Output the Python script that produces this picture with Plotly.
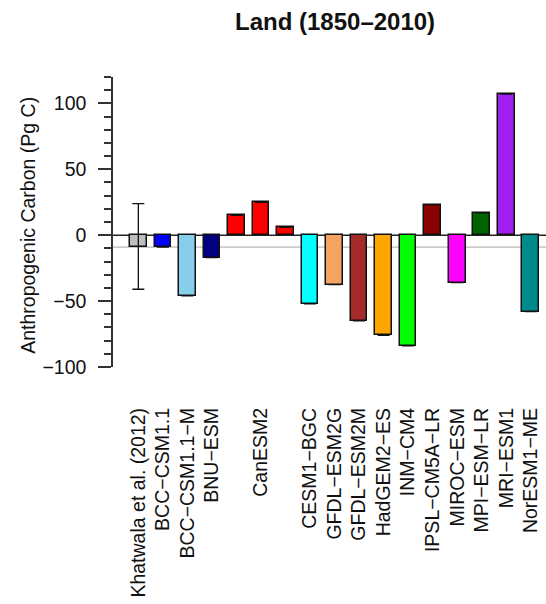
import plotly.graph_objects as go

# ---- data ----
models = ["Khatwala et al. (2012)", "BCC\u2212CSM1.1", "BCC\u2212CSM1.1\u2212M", "BNU\u2212ESM",
          "CanESM2", "CanESM2", "CanESM2",
          "CESM1\u2212BGC", "GFDL\u2212ESM2G", "GFDL\u2212ESM2M", "HadGEM2\u2212ES", "INM\u2212CM4",
          "IPSL\u2212CM5A\u2212LR", "MIROC\u2212ESM", "MPI\u2212ESM\u2212LR", "MRI\u2212ESM1", "NorESM1\u2212ME"]
values = [-9, -9, -46, -17, 15, 25, 6, -52, -37.5, -65, -76, -84, 23, -36, 17, 107, -58]
colors = ["#bebebe", "#0000ff", "#87ceeb", "#000080", "#ff0000", "#ff0000", "#ff0000",
          "#00ffff", "#f4a460", "#a52a2a", "#ffa500", "#00ff00", "#8b0000", "#ff00ff",
          "#006400", "#a020f0", "#008b8b"]
obs_upper = 24
obs_lower = -41
positions = list(range(1, len(models) + 1))

# tick labels: one per distinct model, at the middle of its group
tickvals, ticktext = [], []
i = 0
while i < len(models):
    j = i
    while j + 1 < len(models) and models[j + 1] == models[i]:
        j += 1
    tickvals.append((positions[i] + positions[j]) / 2)
    ticktext.append(models[i])
    i = j + 1

err_plus = [0] * len(values)
err_minus = [0] * len(values)
err_plus[0] = obs_upper - values[0]
err_minus[0] = values[0] - obs_lower
err_vis = [True] + [False] * (len(values) - 1)

fig = go.Figure()
fig.add_trace(go.Bar(
    x=positions, y=values, width=0.68,
    marker=dict(color=colors, line=dict(color="#111111", width=1.5)),
    error_y=dict(type="data", symmetric=False, array=err_plus, arrayminus=err_minus,
                 color="#111111", thickness=1.3, width=6),
    showlegend=False,
))

FONT = "Liberation Sans, Arial, sans-serif"

# reference lines: zero and observational estimate
fig.add_shape(type="line", xref="paper", yref="y", x0=0, x1=1, y0=0, y1=0,
              line=dict(color="#222222", width=1.5), layer="below")
fig.add_shape(type="line", xref="paper", yref="y", x0=0, x1=1, y0=values[0], y1=values[0],
              line=dict(color="#cccccc", width=1.8), layer="below")

fig.update_layout(
    width=546, height=604,
    margin=dict(l=113, r=0, t=77, b=237),
    paper_bgcolor="white", plot_bgcolor="white",
    font=dict(family=FONT, size=19.5, color="#111111"),
    bargap=0,
    annotations=[
        dict(text="<b>Land (1850\u20132010)</b>", xref="paper", yref="paper",
             x=(334.5 - 113) / 433, y=1 + (77 - 22) / 290, xanchor="center", yanchor="middle",
             showarrow=False, font=dict(size=24, family=FONT, color="#111111")),
        dict(text="Anthropogenic Carbon (Pg C)", xref="paper", yref="paper",
             x=(28 - 113) / 433, y=0.487, textangle=-90, xanchor="center", yanchor="middle",
             showarrow=False, font=dict(size=19.5, family=FONT, color="#111111")),
    ],
)

fig.update_xaxes(
    range=[-0.033, 17.62], tickmode="array", tickvals=tickvals, ticktext=ticktext,
    tickangle=-90, ticks="", showline=False, showgrid=False, zeroline=False,
    ticklabelstandoff=36, tickfont=dict(size=19.5, family=FONT, color="#111111"),
)
fig.update_yaxes(
    range=[-100, 120], tickmode="array", tickvals=[-100, -50, 0, 50, 100],
    ticks="outside", ticklen=13, tickwidth=1.5, tickcolor="#333333",
    minor=dict(tickmode="linear", tick0=0, dtick=10, ticks="outside", ticklen=7,
               tickwidth=1.5, tickcolor="#333333"),
    showline=True, linecolor="#333333", linewidth=1.5,
    showgrid=False, zeroline=False, ticklabelstandoff=8,
    tickfont=dict(size=19.5, family=FONT, color="#111111"),
)

fig.write_html("out.html")
